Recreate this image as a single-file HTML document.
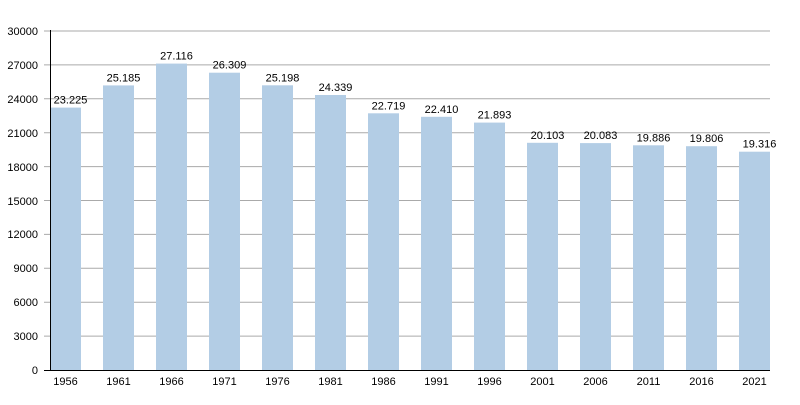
<!DOCTYPE html><html><head><style>body{margin:0;background:#fff}svg{font-family:"Liberation Sans",sans-serif;font-size:11px}</style></head><body>
<svg width="800" height="400" xmlns="http://www.w3.org/2000/svg">
<g stroke="#aaa">
<line x1="44" x2="770" y1="31" y2="31"/><line x1="44" x2="770" y1="64.9" y2="64.9"/><line x1="44" x2="770" y1="98.8" y2="98.8"/><line x1="44" x2="770" y1="132.7" y2="132.7"/><line x1="44" x2="770" y1="166.6" y2="166.6"/><line x1="44" x2="770" y1="200.5" y2="200.5"/><line x1="44" x2="770" y1="234.4" y2="234.4"/><line x1="44" x2="770" y1="268.3" y2="268.3"/><line x1="44" x2="770" y1="302.2" y2="302.2"/><line x1="44" x2="770" y1="336.1" y2="336.1"/>
</g>
<g text-anchor="end">
<text x="38" y="35">30000</text><text x="38" y="69">27000</text><text x="38" y="103">24000</text><text x="38" y="137">21000</text><text x="38" y="171">18000</text><text x="38" y="205">15000</text><text x="38" y="238">12000</text><text x="38" y="272">9000</text><text x="38" y="306">6000</text><text x="38" y="340">3000</text><text x="38" y="374">0</text>
</g>
<g fill="#b3cde5">
<rect x="50" y="107.6" width="31" height="262.4"/><rect x="103" y="85.4" width="31" height="284.6"/><rect x="156" y="63.6" width="31" height="306.4"/><rect x="209" y="72.7" width="31" height="297.3"/><rect x="262" y="85.3" width="31" height="284.7"/><rect x="315" y="95" width="31" height="275"/><rect x="368" y="113.3" width="31" height="256.7"/><rect x="421" y="116.8" width="31" height="253.2"/><rect x="474" y="122.6" width="31" height="247.4"/><rect x="527" y="142.8" width="31" height="227.2"/><rect x="580" y="143.1" width="31" height="226.9"/><rect x="633" y="145.3" width="31" height="224.7"/><rect x="686" y="146.2" width="31" height="223.8"/><rect x="739" y="151.7" width="31" height="218.3"/>
</g>
<g text-anchor="middle">
<text x="70.5" y="103.6">23.225</text><text x="123.5" y="81.4">25.185</text><text x="176.5" y="59.6">27.116</text><text x="229.5" y="68.7">26.309</text><text x="282.5" y="81.3">25.198</text><text x="335.5" y="91">24.339</text><text x="388.5" y="109.3">22.719</text><text x="441.5" y="112.8">22.410</text><text x="494.5" y="118.6">21.893</text><text x="547.5" y="138.8">20.103</text><text x="600.5" y="139.1">20.083</text><text x="653.5" y="141.3">19.886</text><text x="706.5" y="142.2">19.806</text><text x="759.5" y="147.7">19.316</text>
<text x="65.5" y="385">1956</text><text x="118.5" y="385">1961</text><text x="171.5" y="385">1966</text><text x="224.5" y="385">1971</text><text x="277.5" y="385">1976</text><text x="330.5" y="385">1981</text><text x="383.5" y="385">1986</text><text x="436.5" y="385">1991</text><text x="489.5" y="385">1996</text><text x="542.5" y="385">2001</text><text x="595.5" y="385">2006</text><text x="648.5" y="385">2011</text><text x="701.5" y="385">2016</text><text x="754.5" y="385">2021</text>
</g>
<line x1="50.5" x2="50.5" y1="30" y2="371" stroke="#000"/><line x1="44" x2="770" y1="370.5" y2="370.5" stroke="#000"/>
</svg></body></html>
